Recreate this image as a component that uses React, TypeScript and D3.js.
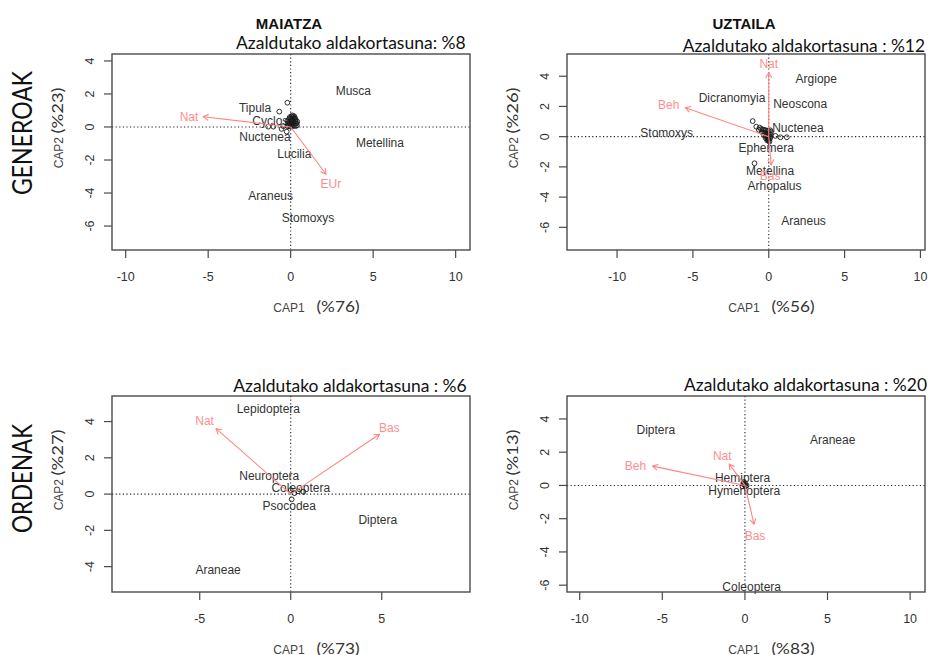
import React from "react";
import * as d3 from "d3";

// ---------------- DATA ----------------
// Panel 1: MAIATZA / GENEROAK
const p1Names = ["Musca", "Tipula", "Cyclosa", "Nuctenea", "Lucilia", "Metellina", "Araneus", "Stomoxys"];
const p1NameX = [3.8, -2.16, -1.03, -1.56, 0.22, 5.41, -1.21, 1.05];
const p1NameY = [2.2, 1.19, 0.38, -0.62, -1.64, -0.93, -4.14, -5.47];
const p1PtX = [-0.2, -0.69, -1.36, -1.05, -0.24, -0.45, -0.55,
  -0.2, -0.1, 0.0, 0.1, 0.2, 0.3, 0.38,
  -0.15, -0.05, 0.05, 0.15, 0.25, 0.35,
  -0.2, -0.1, 0.0, 0.1, 0.2, 0.3, 0.4,
  -0.1, 0.0, 0.1, 0.2, 0.3,
  -0.05, 0.05, 0.15, 0.25, 0.1, 0.2];
const p1PtY = [1.47, 0.93, 0.02, 0.02, -0.28, 0.05, -0.12,
  0.05, 0.05, 0.02, 0.05, 0.08, 0.05, 0.1,
  0.2, 0.2, 0.18, 0.22, 0.2, 0.22,
  0.35, 0.33, 0.36, 0.35, 0.34, 0.36, 0.32,
  0.48, 0.5, 0.47, 0.5, 0.46,
  0.6, 0.62, 0.6, 0.58, 0.7, 0.66];
const p1ArrNames = ["Nat", "EUr"];
const p1ArrX = [-5.3, 2.14];
const p1ArrY = [0.62, -2.85];
const p1ArrLabX = [-6.16, 2.44];
const p1ArrLabY = [0.62, -3.47];

// Panel 2: UZTAILA / GENEROAK
const p2Names = ["Argiope", "Dicranomyia", "Neoscona", "Nuctenea", "Stomoxys", "Ephemera", "Metellina", "Arhopalus", "Araneus"];
const p2NameX = [3.13, -2.42, 2.07, 1.92, -6.73, -0.17, 0.09, 0.38, 2.29];
const p2NameY = [3.8, 2.58, 2.19, 0.56, 0.23, -0.73, -2.23, -3.22, -5.56];
const p2PtX = [-1.06, -0.82, 0.44, 0.77, 1.19, -0.94, -0.6, -0.65,
  -0.5, -0.4, -0.3, -0.2, -0.1, 0.0, 0.1, 0.15,
  -0.45, -0.35, -0.25, -0.15, -0.05, 0.05, 0.12,
  -0.3, -0.2, -0.1, 0.0, 0.1,
  -0.2, -0.1, 0.0, 0.08,
  -0.1, 0.0, 0.05, -0.05];
const p2PtY = [1.03, 0.66, 0.05, -0.04, -0.04, -1.76, 0.6, 0.45,
  0.5, 0.48, 0.45, 0.42, 0.4, 0.38, 0.42, 0.3,
  0.3, 0.28, 0.25, 0.22, 0.2, 0.18, 0.15,
  0.08, 0.05, 0.03, 0.0, -0.02,
  -0.1, -0.12, -0.15, -0.12,
  -0.25, -0.28, -0.33, -0.2];
const p2ArrNames = ["Nat", "Beh", "Bas"];
const p2ArrX = [0.0, -5.5, 0.16];
const p2ArrY = [4.24, 1.92, -1.87];
const p2ArrLabX = [0.0, -6.6, 0.09];
const p2ArrLabY = [4.81, 2.08, -2.6];

// Panel 3: MAIATZA / ORDENAK
const p3Names = ["Lepidoptera", "Neuroptera", "Coleoptera", "Psocodea", "Diptera", "Araneae"];
const p3NameX = [-1.23, -1.18, 0.55, -0.08, 4.78, -3.99];
const p3NameY = [4.71, 1.03, 0.37, -0.66, -1.44, -4.2];
const p3PtX = [0.0, 0.05, 0.69, 0.4, 0.2];
const p3PtY = [0.22, -0.29, 0.13, 0.15, 0.05];
const p3ArrNames = ["Nat", "Bas"];
const p3ArrX = [-4.1, 4.87];
const p3ArrY = [3.61, 3.3];
const p3ArrLabX = [-4.73, 5.42];
const p3ArrLabY = [4.05, 3.68];

// Panel 4: UZTAILA / ORDENAK
const p4Names = ["Diptera", "Araneae", "Hemiptera", "Hymenoptera", "Coleoptera"];
const p4NameX = [-5.39, 5.31, -0.14, -0.04, 0.41];
const p4NameY = [3.33, 2.73, 0.48, -0.33, -6.1];
const p4PtX = [-0.1, 0.0, 0.05, -0.05, 0.1, -0.15, 0.0, -0.08];
const p4PtY = [0.1, 0.0, -0.05, 0.05, 0.0, -0.05, 0.15, 0.2];
const p4ArrNames = ["Beh", "Nat", "Bas"];
const p4ArrX = [-5.59, -0.95, 0.55];
const p4ArrY = [1.16, 1.28, -2.33];
const p4ArrLabX = [-6.63, -1.37, 0.61];
const p4ArrLabY = [1.18, 1.77, -3.05];

const ticksWide = [-10, -5, 0, 5, 10];
const ticksNarrow = [-5, 0, 5];
const yTicks6 = [-6, -4, -2, 0, 2, 4];
const yTicks4 = [-4, -2, 0, 2, 4];

const colTitles = ["MAIATZA", "UZTAILA"];
const rowTitles = ["GENEROAK", "ORDENAK"];
const subtitles = [
  "Azaldutako aldakortasuna: %8",
  "Azaldutako aldakortasuna : %12",
  "Azaldutako aldakortasuna : %6",
  "Azaldutako aldakortasuna : %20",
];
const xPct = ["(%76)", "(%56)", "(%73)", "(%83)"];
const yPct = ["(%23)", "(%26)", "(%27)", "(%13)"];

// ---------------- LAYOUT ----------------
const W = 928;
const H = 655;
const CAL = "Lato, 'Open Sans', sans-serif";
const ARIAL = "'Liberation Sans', Arial, sans-serif";
const ARROW = "#ff8585";
const ARROW_TXT = "#ff8e8e";
const INK = "#333";

type PanelProps = {
  left: number; right: number; top: number; bottom: number;
  xDom: [number, number]; yDom: [number, number];
  xTicks: number[]; yTicks: number[];
  names: string[]; nx: number[]; ny: number[];
  px: number[]; py: number[];
  an: string[]; ax: number[]; ay: number[]; alx: number[]; aly: number[];
  sub: string; subRight: number; subBase: number; subLen: number;
  xp: string; yp: string;
};

function Panel(p: PanelProps) {
  const x = d3.scaleLinear().domain(p.xDom).range([p.left, p.right]);
  const y = d3.scaleLinear().domain(p.yDom).range([p.bottom, p.top]);
  const cx = (p.left + p.right) / 2;
  const cy = (p.top + p.bottom) / 2;
  const head = 6;
  return (
    <g>
      <line x1={p.left} x2={p.right} y1={y(0)} y2={y(0)} stroke="#222" strokeWidth={1.1} strokeDasharray="1.2,2.4" />
      <line x1={x(0)} x2={x(0)} y1={p.top} y2={p.bottom} stroke="#222" strokeWidth={1.1} strokeDasharray="1.2,2.4" />
      {p.names.map((n, i) => (
        <text key={"n" + i} x={x(p.nx[i])} y={y(p.ny[i])} dy="0.35em" textAnchor="middle"
          fontFamily={ARIAL} fontSize={12} fill={INK}>{n}</text>
      ))}
      {p.px.map((v, i) => (
        <circle key={"p" + i} cx={x(v)} cy={y(p.py[i])} r={2.4} fill="none" stroke="#1a1a1a" strokeWidth={0.9} />
      ))}
      {p.an.map((n, i) => {
        const x0 = x(0), y0 = y(0), x1 = x(p.ax[i]), y1 = y(p.ay[i]);
        const ang = Math.atan2(y1 - y0, x1 - x0);
        const a1 = ang + Math.PI - Math.PI / 6;
        const a2 = ang + Math.PI + Math.PI / 6;
        return (
          <g key={"a" + i}>
            <line x1={x0} y1={y0} x2={x1} y2={y1} stroke={ARROW} strokeWidth={1.1} />
            <polyline points={`${x1 + head * Math.cos(a1)},${y1 + head * Math.sin(a1)} ${x1},${y1} ${x1 + head * Math.cos(a2)},${y1 + head * Math.sin(a2)}`}
              fill="none" stroke={ARROW} strokeWidth={1.1} />
            <text x={x(p.alx[i])} y={y(p.aly[i])} dy="0.35em" textAnchor="middle" fontFamily={ARIAL}
              fontSize={12} fill={ARROW_TXT}>{n}</text>
          </g>
        );
      })}
      <rect x={p.left} y={p.top} width={p.right - p.left} height={p.bottom - p.top} fill="none" stroke="#4a4a4a" strokeWidth={1.4} />
      {p.xTicks.map((t) => (
        <g key={"xt" + t}>
          <line x1={x(t)} x2={x(t)} y1={p.bottom} y2={p.bottom + 8} stroke="#4a4a4a" strokeWidth={1.2} />
          <text x={x(t)} y={p.bottom + 30.5} textAnchor="middle" fontFamily={ARIAL} fontSize={12.5} fill={INK}>{t}</text>
        </g>
      ))}
      {p.yTicks.map((t) => (
        <g key={"yt" + t}>
          <line x1={p.left - 8} x2={p.left} y1={y(t)} y2={y(t)} stroke="#4a4a4a" strokeWidth={1.2} />
          <text transform={`translate(${p.left - 18.5},${y(t)}) rotate(-90)`} textAnchor="middle"
            fontFamily={ARIAL} fontSize={12.5} fill={INK}>{t}</text>
        </g>
      ))}
      <text x={cx - 17.7} y={p.bottom + 61.5} fontFamily={ARIAL} fontSize={12} fill="#444">CAP1</text>
      <text x={cx + 25.5} y={p.bottom + 61.5} fontFamily={CAL} fontSize={16} fill={INK} textLength={43} lengthAdjust="spacingAndGlyphs">{p.xp}</text>
      <text transform={`translate(${p.left - 49},${cy + 16.3}) rotate(-90)`} fontFamily={ARIAL} fontSize={12} fill="#444">CAP2</text>
      <text transform={`translate(${p.left - 49},${cy - 18.5}) rotate(-90)`} fontFamily={CAL} fontSize={16} fill={INK}
        textLength={46} lengthAdjust="spacingAndGlyphs">{p.yp}</text>
      <text x={p.subRight - p.subLen} y={p.subBase} fontFamily={CAL} fontSize={16.5} fill="#111"
        textLength={p.subLen} lengthAdjust="spacingAndGlyphs">{p.sub}</text>
    </g>
  );
}

export default function App() {
  const L1 = 112, R1 = 470, L2 = 567, R2 = 925;
  const T1 = 54, B1 = 250, T2 = 396, B2 = 592;
  return (
    <svg width={W} height={H} style={{ display: "block", position: "absolute", left: 0, top: 0, background: "white" }}>
      <rect width={W} height={H} fill="white" />
      <text x={289} y={29} textAnchor="middle" fontFamily={ARIAL} fontWeight="bold" fontSize={15} fill="#111">{colTitles[0]}</text>
      <text x={744} y={29} textAnchor="middle" fontFamily={ARIAL} fontWeight="bold" fontSize={15} fill="#111">{colTitles[1]}</text>
      <text transform="translate(31.5,133) rotate(-90)" textAnchor="middle" fontFamily={CAL} fontSize={26} fill="#111"
        textLength={124} lengthAdjust="spacingAndGlyphs">{rowTitles[0]}</text>
      <text transform="translate(31.5,478.5) rotate(-90)" textAnchor="middle" fontFamily={CAL} fontSize={26} fill="#111"
        textLength={109} lengthAdjust="spacingAndGlyphs">{rowTitles[1]}</text>

      <Panel left={L1} right={R1} top={T1} bottom={B1} xDom={[-10.83, 10.87]} yDom={[-7.45, 4.42]}
        xTicks={ticksWide} yTicks={yTicks6} names={p1Names} nx={p1NameX} ny={p1NameY} px={p1PtX} py={p1PtY}
        an={p1ArrNames} ax={p1ArrX} ay={p1ArrY} alx={p1ArrLabX} aly={p1ArrLabY}
        sub={subtitles[0]} subRight={465.7} subBase={48.5} subLen={229.7} xp={xPct[0]} yp={yPct[0]} />
      <Panel left={L2} right={R2} top={T1} bottom={B1} xDom={[-13.3, 10.3]} yDom={[-7.5, 5.47]}
        xTicks={ticksWide} yTicks={yTicks6} names={p2Names} nx={p2NameX} ny={p2NameY} px={p2PtX} py={p2PtY}
        an={p2ArrNames} ax={p2ArrX} ay={p2ArrY} alx={p2ArrLabX} aly={p2ArrLabY}
        sub={subtitles[1]} subRight={925} subBase={51.5} subLen={242.3} xp={xPct[1]} yp={yPct[1]} />
      <Panel left={L1} right={R1} top={T2} bottom={B2} xDom={[-9.82, 9.85]} yDom={[-5.4, 5.41]}
        xTicks={ticksNarrow} yTicks={yTicks4} names={p3Names} nx={p3NameX} ny={p3NameY} px={p3PtX} py={p3PtY}
        an={p3ArrNames} ax={p3ArrX} ay={p3ArrY} alx={p3ArrLabX} aly={p3ArrLabY}
        sub={subtitles[2]} subRight={466.7} subBase={391.5} subLen={233.4} xp={xPct[2]} yp={yPct[2]} />
      <Panel left={L2} right={R2} top={T2} bottom={B2} xDom={[-10.77, 10.9]} yDom={[-6.41, 5.38]}
        xTicks={ticksWide} yTicks={yTicks6} names={p4Names} nx={p4NameX} ny={p4NameY} px={p4PtX} py={p4PtY}
        an={p4ArrNames} ax={p4ArrX} ay={p4ArrY} alx={p4ArrLabX} aly={p4ArrLabY}
        sub={subtitles[3]} subRight={927} subBase={390.5} subLen={243} xp={xPct[3]} yp={yPct[3]} />
    </svg>
  );
}
